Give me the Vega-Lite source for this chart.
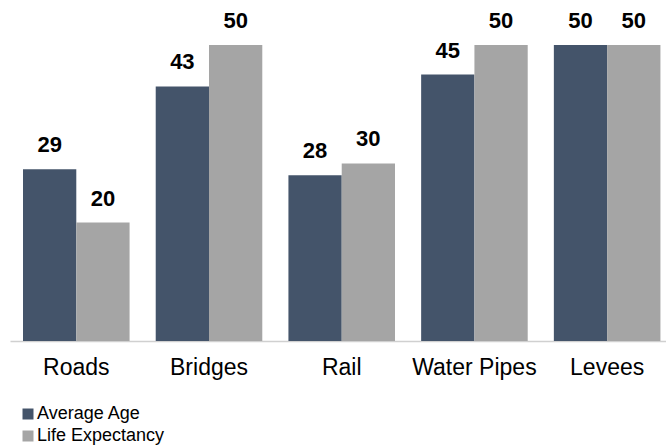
{
  "$schema": "https://vega.github.io/schema/vega-lite/v6.json",
  "width": 656,
  "height": 296,
  "autosize": {"type": "none"},
  "padding": {"left": 10, "top": 45, "right": 0, "bottom": 107},
  "config": {
    "view": {"stroke": null},
    "font": "Liberation Sans"
  },
  "data": {
    "values": [
      {"asset": "Roads", "series": "Average Age", "value": 29},
      {"asset": "Roads", "series": "Life Expectancy", "value": 20},
      {"asset": "Bridges", "series": "Average Age", "value": 43},
      {"asset": "Bridges", "series": "Life Expectancy", "value": 50},
      {"asset": "Rail", "series": "Average Age", "value": 28},
      {"asset": "Rail", "series": "Life Expectancy", "value": 30},
      {"asset": "Water Pipes", "series": "Average Age", "value": 45},
      {"asset": "Water Pipes", "series": "Life Expectancy", "value": 50},
      {"asset": "Levees", "series": "Average Age", "value": 50},
      {"asset": "Levees", "series": "Life Expectancy", "value": 50}
    ]
  },
  "encoding": {
    "x": {
      "field": "asset",
      "type": "nominal",
      "sort": null,
      "scale": {"paddingInner": 0.197, "paddingOuter": 0.07, "align": 0.7},
      "axis": {
        "title": null,
        "labelAngle": 0,
        "labelFontSize": 23,
        "labelColor": "#000000",
        "labelPadding": 15,
        "ticks": false,
        "domainColor": "#D0D0D0",
        "domainWidth": 1.5
      }
    },
    "xOffset": {"field": "series", "type": "nominal", "sort": ["Average Age", "Life Expectancy"]},
    "y": {
      "field": "value",
      "type": "quantitative",
      "scale": {"domain": [0, 50]},
      "axis": null
    }
  },
  "layer": [
    {
      "mark": {"type": "bar"},
      "encoding": {
        "color": {
          "field": "series",
          "type": "nominal",
          "scale": {"domain": ["Average Age", "Life Expectancy"], "range": ["#44546A", "#A5A5A5"]},
          "legend": {
            "title": null,
            "orient": "none",
            "legendX": 9,
            "legendY": 360,
            "symbolType": "square",
            "symbolSize": 121,
            "symbolStrokeWidth": 0,
            "symbolOpacity": 1,
            "labelFontSize": 18,
            "labelColor": "#000000",
            "labelOffset": 0,
            "rowPadding": 4
          }
        }
      }
    },
    {
      "mark": {"type": "text", "fontSize": 22, "fontWeight": "bold", "baseline": "alphabetic", "dy": -17, "color": "#000000"},
      "encoding": {"text": {"field": "value", "type": "quantitative"}}
    }
  ]
}
